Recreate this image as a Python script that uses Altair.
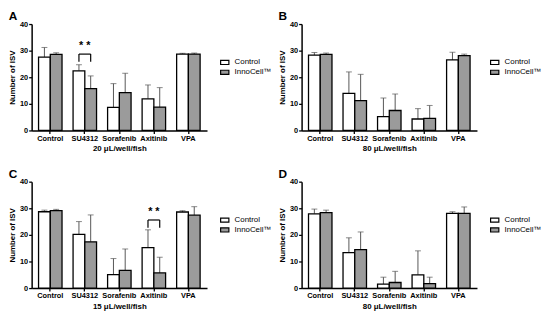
import altair as alt
import pandas as pd

categories = ["Control", "SU4312", "Sorafenib", "Axitinib", "VPA"]
groups = ["Control", "InnoCell™"]

panel_letters = ["A", "B", "C", "D"]
panel_titles = ["20 μL/well/fish", "80 μL/well/fish", "15 μL/well/fish", "80 μL/well/fish"]

A_ctrl = [27.6, 22.4, 8.7, 11.9, 28.7]
A_ctrl_sd = [3.6, 2.3, 8.9, 5.2, 0.3]
A_inno = [28.6, 15.7, 14.2, 8.8, 28.7]
A_inno_sd = [0.6, 4.8, 7.3, 7.3, 0.4]

B_ctrl = [28.3, 13.9, 5.2, 4.3, 26.5]
B_ctrl_sd = [1.0, 8.1, 7.0, 3.9, 2.9]
B_inno = [28.6, 11.2, 7.5, 4.5, 28.1]
B_inno_sd = [0.5, 9.9, 6.2, 4.9, 0.6]

C_ctrl = [28.7, 20.2, 5.1, 15.2, 28.6]
C_ctrl_sd = [0.6, 4.8, 6.0, 6.7, 0.5]
C_inno = [29.1, 17.4, 6.7, 5.7, 27.4]
C_inno_sd = [0.5, 10.1, 8.0, 5.9, 3.2]

D_ctrl = [27.9, 13.3, 1.5, 5.0, 28.1]
D_ctrl_sd = [1.8, 5.6, 2.6, 9.0, 0.6]
D_inno = [28.4, 14.5, 2.1, 1.7, 28.1]
D_inno_sd = [0.9, 6.6, 4.2, 2.4, 2.4]

# significance brackets
sig_panels = ["A", "C"]
sig_categories = ["SU4312", "Axitinib"]
sig_low = [25.8, 22.7]
sig_high = [28.7, 25.6]
sig_text_y = [31.6, 28.4]

series = {
    "A": (A_ctrl, A_ctrl_sd, A_inno, A_inno_sd),
    "B": (B_ctrl, B_ctrl_sd, B_inno, B_inno_sd),
    "C": (C_ctrl, C_ctrl_sd, C_inno, C_inno_sd),
    "D": (D_ctrl, D_ctrl_sd, D_inno, D_inno_sd),
}

FONT = "Liberation Sans"
W, H = 178, 108


def make_panel(letter, xtitle):
    c, csd, n, nsd = series[letter]
    rows = []
    for i, cat in enumerate(categories):
        rows.append({"cat": cat, "grp": groups[0], "val": c[i], "top": c[i] + csd[i]})
        rows.append({"cat": cat, "grp": groups[1], "val": n[i], "top": n[i] + nsd[i]})
    df = pd.DataFrame(rows)

    x = alt.X("cat:N", sort=categories, scale=alt.Scale(domain=categories, paddingInner=0.32, paddingOuter=0.2),
              axis=alt.Axis(title=xtitle, labelAngle=0))
    xo = alt.XOffset("grp:N", sort=groups, scale=alt.Scale(domain=groups))
    yscale = alt.Scale(domain=[0, 40])
    yaxis = alt.Axis(title="Number of ISV", values=[0, 10, 20, 30, 40], grid=False, labelOverlap=False)
    y = alt.Y("val:Q", scale=yscale, axis=yaxis)

    base = alt.Chart(df)
    err = base.mark_rule(color="#555555", strokeWidth=1).encode(x=x, xOffset=xo, y=y, y2="top:Q")
    cap = base.mark_tick(color="#555555", thickness=1, size=6, orient="horizontal").encode(
        x=x, xOffset=xo, y=alt.Y("top:Q", scale=yscale, axis=yaxis))
    bars = base.mark_bar(stroke="black", strokeWidth=1.3).encode(
        x=x, xOffset=xo, y=y,
        fill=alt.Fill("grp:N", sort=groups,
                      scale=alt.Scale(domain=groups, range=["white", "#9b9b9b"]),
                      legend=alt.Legend(title=None, orient="none", legendX=W + 13, legendY=34,
                                        symbolType="M-1,-0.5H1V0.5H-1Z", symbolSize=70,
                                        symbolStrokeColor="black", symbolStrokeWidth=1.2,
                                        labelFont=FONT, labelFontSize=8, labelColor="black",
                                        rowPadding=0, labelOffset=5)))
    layers = [err, cap, bars]

    if letter in sig_panels:
        k = sig_panels.index(letter)
        sdf = pd.DataFrame([
            {"cat": sig_categories[k], "grp": g, "lo": sig_low[k], "hi": sig_high[k]} for g in groups
        ])
        legs = alt.Chart(sdf).mark_rule(color="black", strokeWidth=1.2).encode(
            x=x, xOffset=xo, y=alt.Y("lo:Q", scale=yscale, axis=yaxis), y2="hi:Q")
        horiz = alt.Chart(sdf).mark_line(color="black", strokeWidth=1.2).encode(
            x=x, xOffset=xo, y=alt.Y("hi:Q", scale=yscale, axis=yaxis), detail="cat:N")
        tdf = pd.DataFrame([{"cat": sig_categories[k], "ty": sig_text_y[k], "t": "* *"}])
        star = alt.Chart(tdf).mark_text(font=FONT, fontSize=11, fontWeight="bold", baseline="middle").encode(
            x=x, y=alt.Y("ty:Q", scale=yscale, axis=yaxis), text="t:N")
        layers += [legs, horiz, star]

    return alt.layer(*layers).properties(
        width=W, height=H,
        title=alt.TitleParams(letter, anchor="start", fontSize=12, font=FONT, fontWeight="bold", offset=-3),
    )


pA = make_panel("A", panel_titles[0])
pB = make_panel("B", panel_titles[1])
pC = make_panel("C", panel_titles[2])
pD = make_panel("D", panel_titles[3])

row1 = alt.hconcat(pA, pB, spacing=6).resolve_scale(fill="independent").resolve_legend(fill="independent")
row2 = alt.hconcat(pC, pD, spacing=6).resolve_scale(fill="independent").resolve_legend(fill="independent")

chart = alt.vconcat(row1, row2, spacing=15).resolve_scale(fill="independent").resolve_legend(
    fill="independent").properties(padding=0).configure_view(stroke=None).configure_axis(
    domainColor="black", domainWidth=1.5, tickColor="black", tickWidth=1.3, tickSize=3,
    labelFont=FONT, labelFontSize=7.5, labelFontWeight="bold", labelColor="black",
    titleFont=FONT, titleFontSize=8, titleFontWeight="bold", titleColor="black",
    labelPadding=1, titlePadding=3,
)

chart.save("out.html", embed_options={"renderer": "svg", "actions": False})
